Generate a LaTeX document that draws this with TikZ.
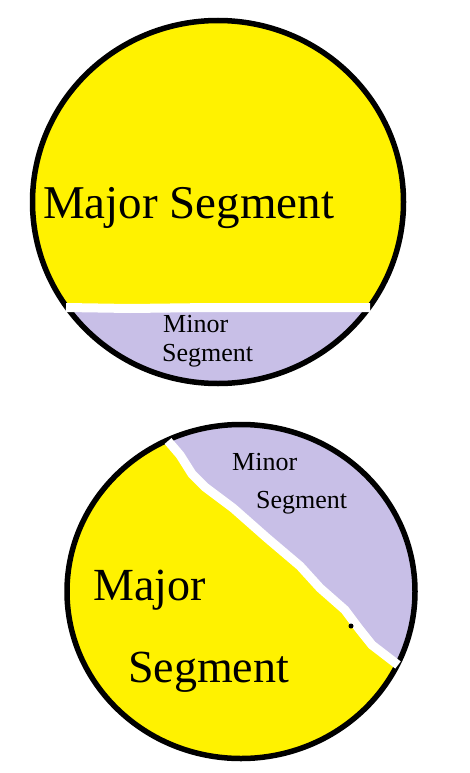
\documentclass[tikz,border=0pt]{standalone}
\usepackage{fontspec}
\setmainfont{Liberation Serif}
\usetikzlibrary{positioning}
\definecolor{segyellow}{RGB}{255,242,0}
\definecolor{seglilac}{RGB}{200,191,231}

\begin{document}
\begin{tikzpicture}[
            x=1pt, y=-1pt,
            ring/.style={draw=black, line width=5.5pt},
            cut/.style={draw=white, line width=9pt, line join=round},
            biglabel/.style={anchor=base west, inner sep=0pt,
                    font=\fontsize{46}{50}\selectfont},
            smalllabel/.style={anchor=base west, inner sep=0pt,
                    font=\fontsize{26}{30}\selectfont}
            ]
            \useasboundingbox (0,0) rectangle (469,773);

            % top circle, cut by a horizontal chord
            \fill[segyellow] (218,202) ellipse [x radius=185.5pt, y radius=181.5pt];
            \begin{scope}
                \clip (218,202) ellipse [x radius=185.5pt, y radius=181.5pt];
                \fill[seglilac] (0,307.5) rectangle (469,400);
            \end{scope}
            \draw[ring] (218,202) ellipse [x radius=185.5pt, y radius=181.5pt];
            \draw[cut] (66,307.5) -- (130,308.5) -- (210,307.5) -- (300,307.5) -- (370,307.5);

            \node[biglabel, font=\fontsize{47}{50}\selectfont] (majtop) at (43,218) {Major Segment};
            \node[smalllabel] (mintopa) at (163,332) {Minor};
            \node[smalllabel] (mintopb) at (162,361) {Segment};

            % bottom circle, cut by a slanted chord
            \fill[segyellow] (241,591.5) ellipse [x radius=174pt, y radius=167pt];
            \begin{scope}
                \clip (241,591.5) ellipse [x radius=174pt, y radius=167pt];
                \fill[seglilac] (168,441) -- (180,455) -- (192,474) -- (205,487)
                    -- (233,508) -- (267,538) -- (300,566) -- (320,588) -- (345,610)
                    -- (360,630) -- (372,645) -- (398,665) -- (469,700) -- (469,400)
                    -- (150,400) -- cycle;
            \end{scope}
            \draw[ring] (241,591.5) ellipse [x radius=174pt, y radius=167pt];
            \draw[cut] (168,441) -- (180,455) -- (192,474) -- (205,487)
                -- (233,508) -- (267,538) -- (300,566) -- (320,588) -- (345,610)
                -- (360,630) -- (372,645) -- (398,665);
            \fill (351,626) circle (2.5pt);

            \node[smalllabel] (minbota) at (232,470) {Minor};
            \node[smalllabel] (minbotb) at (256,508) {Segment};
            \node[biglabel] (majbota) at (93,600) {Major};
            \node[biglabel] (majbotb) at (128,682) {Segment};
        \end{tikzpicture}
\end{document}
